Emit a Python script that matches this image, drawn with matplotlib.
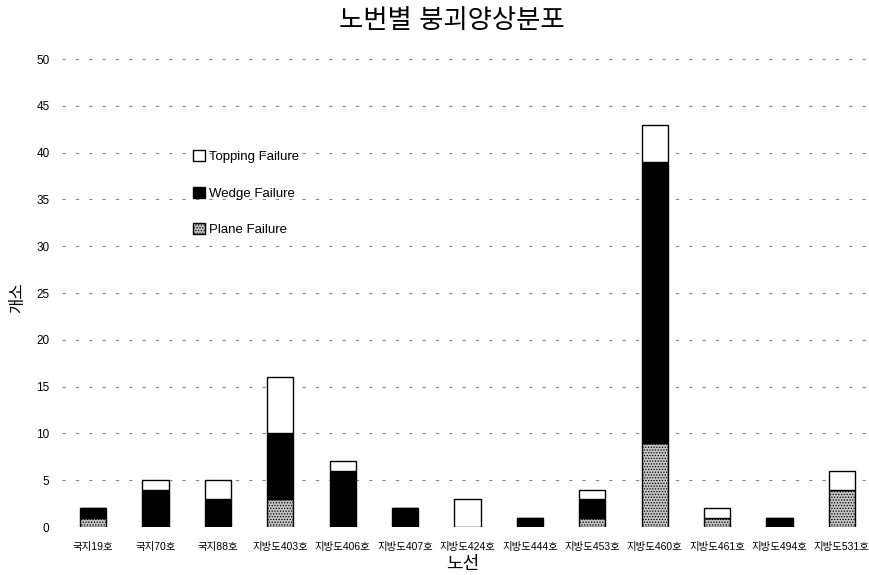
"""Slope failure type distribution by road route (stacked bars)."""

import matplotlib
matplotlib.use("Agg")
import matplotlib.pyplot as plt
import numpy as np

plt.rcParams["font.family"] = ["Liberation Sans", "Noto Sans CJK KR", "DejaVu Sans"]
plt.rcParams["hatch.linewidth"] = 0.6

routes = [
    "국지19호", "국지70호", "국지88호", "지방도403호", "지방도406호",
    "지방도407호", "지방도424호", "지방도444호", "지방도453호",
    "지방도460호", "지방도461호", "지방도494호", "지방도531호",
]
plane = [1, 0, 0, 3, 0, 0, 0, 0, 1, 9, 1, 0, 4]
wedge = [1, 4, 3, 7, 6, 2, 0, 1, 2, 30, 0, 1, 0]
topping = [0, 1, 2, 6, 1, 0, 3, 0, 1, 4, 1, 0, 2]
y_ticks = list(range(0, 55, 5))

fig = plt.figure(figsize=(8.7, 5.75), dpi=100)
ax = fig.add_axes([62 / 870, 48 / 575, 806 / 870, 468 / 575])

x = np.arange(len(routes))
plane = np.array(plane)
wedge = np.array(wedge)
topping = np.array(topping)
width = 0.42

ax.bar(x, plane, width, color="#c4c4c4", edgecolor="black", hatch="......",
       linewidth=1.0, label="Plane Failure", zorder=3)
ax.bar(x, wedge, width, bottom=plane, color="black", edgecolor="black",
       linewidth=1.0, label="Wedge Failure", zorder=3)
ax.bar(x, topping, width, bottom=plane + wedge, color="white",
       edgecolor="black", linewidth=1.0, label="Topping Failure", zorder=3)

ax.set_xlim(-0.5, 12.42)
ax.set_ylim(0, 50)
ax.set_yticks(y_ticks)
ax.set_xticks(x)
ax.set_xticklabels(routes, fontsize=7.5)
ax.tick_params(axis="both", length=0)
ax.tick_params(axis="y", labelsize=8.5, pad=9)
ax.tick_params(axis="x", pad=11)
for s in ax.spines.values():
    s.set_visible(False)
ax.yaxis.grid(True, color="#888888", linestyle=(0, (3, 9)), linewidth=0.8, zorder=0)

fig.text(463 / 870, 1 - 565 / 575, "노선", fontsize=13, ha="center", va="center")
fig.text(18 / 870, 1 - 298 / 575, "개소", fontsize=12, rotation=90,
         ha="center", va="center")
fig.text(452 / 870, 1 - 21 / 575, "노번별 붕괴양상분포", fontsize=19,
         ha="center", va="center")

handles, labels = ax.get_legend_handles_labels()
ax.legend(handles[::-1], labels[::-1], loc="upper left",
          bbox_to_anchor=(0.148, 0.83), frameon=False, fontsize=9.5,
          handlelength=0.9, handleheight=0.9, handletextpad=0.3,
          labelspacing=1.75)

fig.savefig("out.png", dpi=100)
